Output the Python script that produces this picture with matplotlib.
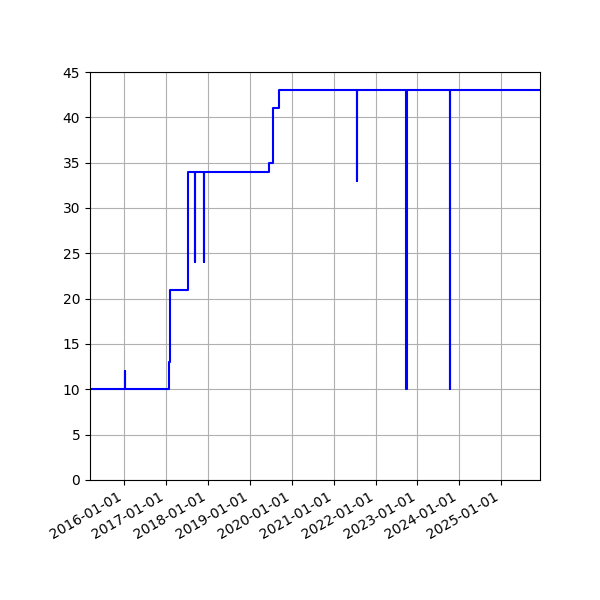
import pandas as pd
import matplotlib
matplotlib.use('Agg')
import matplotlib.pyplot as plt
import matplotlib.dates as mdates

# change points of the series (date, value), held until the next date
dates = ['2015-03-08', '2016-01-07', '2016-01-09', '2017-01-24', '2017-02-04',
         '2017-07-14', '2017-09-05', '2017-09-13', '2017-11-27', '2017-11-28',
         '2019-06-21', '2019-07-19', '2019-07-21', '2019-09-16', '2021-07-20',
         '2021-07-21', '2022-09-23', '2022-09-30', '2023-10-12', '2023-10-13',
         '2025-12-06']
values = [10, 12, 10, 13, 21,
          34, 24, 34, 24, 34,
          35, 39, 41, 43, 33,
          43, 10, 43, 10, 43,
          43]

x = pd.to_datetime(dates)

fig, ax = plt.subplots(figsize=(6, 6), dpi=100)
ax.plot(x, values, color='blue', drawstyle='steps-post')

ax.set_xlim(x[0], x[-1])
ax.set_ylim(0, 45)
ax.set_yticks(range(0, 46, 5))
ax.xaxis.set_major_locator(mdates.YearLocator())
ax.xaxis.set_major_formatter(mdates.DateFormatter('%Y-%m-%d'))
ax.grid(True)

fig.autofmt_xdate()
fig.subplots_adjust(left=0.15, right=0.9, top=0.88, bottom=0.2)

plt.savefig('out.png')
